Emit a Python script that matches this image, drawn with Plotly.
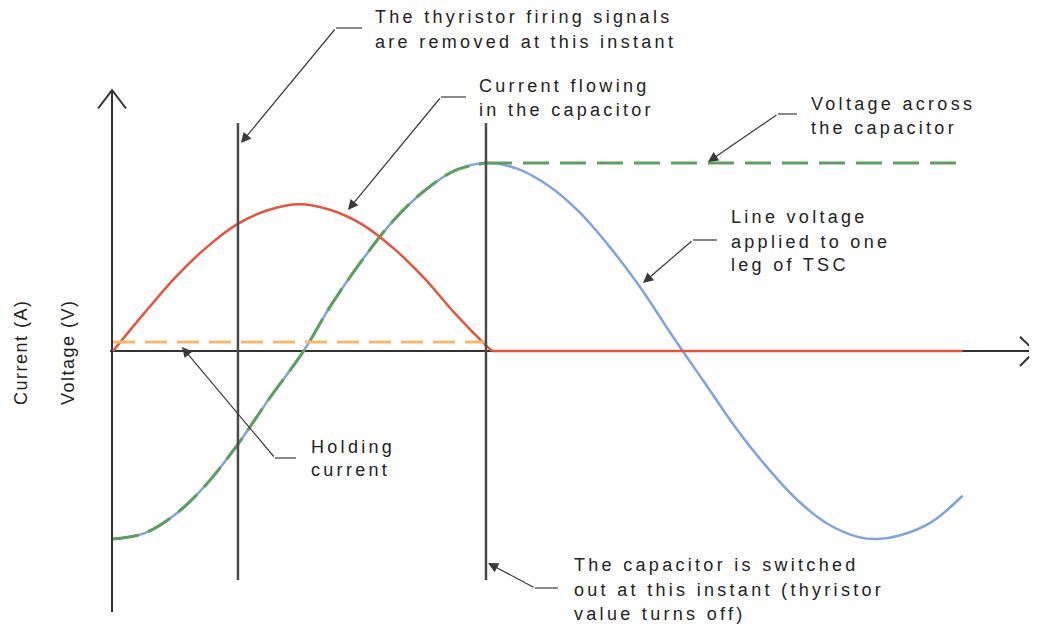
import plotly.graph_objects as go

# ---------------- data (phase angle in degrees, per-unit values) ----------------
volt_deg = [0, 15, 30, 45, 60, 75, 92, 105, 120, 135, 150, 165, 180,
            195, 210, 225, 240, 255, 270, 285, 300, 315, 330, 345, 360, 369, 380, 395, 410]
volt_val = [-1.00, -0.97, -0.87, -0.71, -0.50, -0.26, 0.00, 0.24, 0.48, 0.69, 0.85, 0.96, 1.00,
            0.97, 0.88, 0.74, 0.55, 0.33, 0.08, -0.16, -0.40, -0.61, -0.79, -0.92, -0.99, -1.00, -0.98, -0.91, -0.77]

cap_deg = [0, 15, 30, 45, 60, 75, 92, 105, 120, 135, 150, 165, 180]
cap_val = [-1.00, -0.97, -0.87, -0.71, -0.50, -0.26, 0.00, 0.24, 0.48, 0.69, 0.85, 0.96, 1.00]
cap_hold_deg = [180, 410]
cap_hold_val = [1.00, 1.00]

cur_deg = [0, 15, 30, 45, 60, 75, 90, 105, 120, 135, 150, 165, 180, 183]
cur_val = [0.00, 0.20, 0.39, 0.55, 0.675, 0.75, 0.78, 0.75, 0.675, 0.55, 0.39, 0.20, 0.03, 0.00]
cur_off_deg = [183, 410]
cur_off_val = [0.00, 0.00]

hold_deg = [0, 180]
hold_val = [0.048, 0.048]

firing_removed_deg = 60.3
switched_out_deg = 180.0

labels = {
    "firing": ["The thyristor firing signals", "are removed at this instant"],
    "current": ["Current flowing", "in the capacitor"],
    "vcap": ["Voltage across", "the capacitor"],
    "line": ["Line voltage", "applied to one", "leg of TSC"],
    "hold": ["Holding", "current"],
    "off": ["The capacitor is switched", "out at this instant (thyristor", "value turns off)"],
}
y_titles = ["Current (A)", "Voltage (V)"]

# ---------------- figure ----------------
W, H = 1037, 626
OFF = 8  # page body margin
X_RANGE = [-50.68, 449.8]
Y_RANGE = [-1.5053, 1.8245]

BLUE = "#7fa3dc"
GREEN = "#5e9f5e"
RED = "#e2563f"
ORANGE = "#f5b86e"
DARK = "#333333"
TXT = "#222222"


def P(px, py):
    return (px - OFF) / W, 1 - (py - OFF) / H


fig = go.Figure()


def line_trace(x, y, **line):
    fig.add_trace(go.Scatter(x=x, y=y, mode="lines", line=line, hoverinfo="skip", showlegend=False))


line_trace(volt_deg, volt_val, color=BLUE, width=2.5, shape="spline")
line_trace(cap_deg, cap_val, color=GREEN, width=3, shape="spline", dash="26px,10px")
line_trace(cap_hold_deg, cap_hold_val, color=GREEN, width=3, dash="26px,11px")
line_trace(cur_deg, cur_val, color=RED, width=2.5, shape="spline", smoothing=1)
line_trace(cur_off_deg, cur_off_val, color=RED, width=2.5)
line_trace(hold_deg, hold_val, color=ORANGE, width=3, dash="22px,10px")

shapes = []
# axes with open arrowheads (below the curves)
shapes.append(dict(type="line", xref="x", yref="y", x0=-1.45, y0=0, x1=445.0, y1=0, layer="below",
                   line=dict(color=DARK, width=2)))
shapes.append(dict(type="path", xref="x", yref="y", path="M 437.7 0.076 L 445.0 0 L 437.7 -0.080", layer="below",
                   line=dict(color=DARK, width=2)))
shapes.append(dict(type="line", xref="x", yref="y", x0=-0.48, y0=-1.388, x1=-0.48, y1=1.388, layer="below",
                   line=dict(color=DARK, width=2)))
shapes.append(dict(type="path", xref="x", yref="y", path="M -7.2 1.29 L -0.48 1.388 L 6.3 1.29", layer="below",
                   line=dict(color=DARK, width=2)))
# event lines
for d in (firing_removed_deg, switched_out_deg):
    shapes.append(dict(type="line", xref="x", yref="y", x0=d, y0=-1.218, x1=d, y1=1.213,
                       line=dict(color="#4a4a4a", width=2.5)))

annotations = []

# leader lines: tip, bend, end (pixel positions of annotation geometry)
leaders = [
    ((241, 143), (336, 28), (362, 28)),
    ((348, 210), (441, 97), (466, 97)),
    ((708, 162), (778, 114), (797, 114)),
    ((643, 283), (693, 240), (717, 240)),
    ((182, 347), (275, 458), (296, 458)),
    ((488, 563), (535, 588), (558, 588)),
]
for tip, bend, end in leaders:
    bx, by = P(*bend)
    ex, ey = P(*end)
    shapes.append(dict(type="line", xref="paper", yref="paper", x0=bx, y0=by, x1=ex, y1=ey,
                       line=dict(color="#3a3a3a", width=1.2)))
    tx, ty = P(*tip)
    annotations.append(dict(x=tx, y=ty, xref="paper", yref="paper", text="", showarrow=True,
                            ax=bend[0] - tip[0], ay=bend[1] - tip[1], axref="pixel", ayref="pixel",
                            arrowhead=2, arrowsize=1.7, arrowwidth=1.2, arrowcolor="#3a3a3a", standoff=0))

# text blocks: (key, left px, line center px list)
blocks = [("firing", 373, [17, 42]), ("current", 477, [86, 110]), ("vcap", 809, [104, 128]),
          ("line", 729, [217, 242, 265]), ("hold", 309, [447, 470]), ("off", 572, [565, 590, 614])]
for key, px, ys in blocks:
    for s, py in zip(labels[key], ys):
        x, y = P(px, py)
        annotations.append(dict(x=x, y=y, xref="paper", yref="paper",
                                text='<span style="letter-spacing:3.3px">%s</span>' % s, showarrow=False,
                                xanchor="left", yanchor="middle", align="left",
                                font=dict(family="Liberation Sans, Arial", size=18, color=TXT)))

for title, px in zip(y_titles, (21, 68)):
    x, y = P(px, 352)
    annotations.append(dict(x=x, y=y, xref="paper", yref="paper", showarrow=False, textangle=-90,
                            xanchor="center", yanchor="middle",
                            text='<span style="letter-spacing:1.5px">%s</span>' % title,
                            font=dict(family="Liberation Sans, Arial", size=18, color=TXT)))

fig.update_layout(
    width=W, height=H, margin=dict(l=0, r=0, t=0, b=0),
    paper_bgcolor="white", plot_bgcolor="white",
    xaxis=dict(range=X_RANGE, visible=False, fixedrange=True),
    yaxis=dict(range=Y_RANGE, visible=False, fixedrange=True),
    shapes=shapes, annotations=annotations, showlegend=False,
)

fig.write_html("out.html")
